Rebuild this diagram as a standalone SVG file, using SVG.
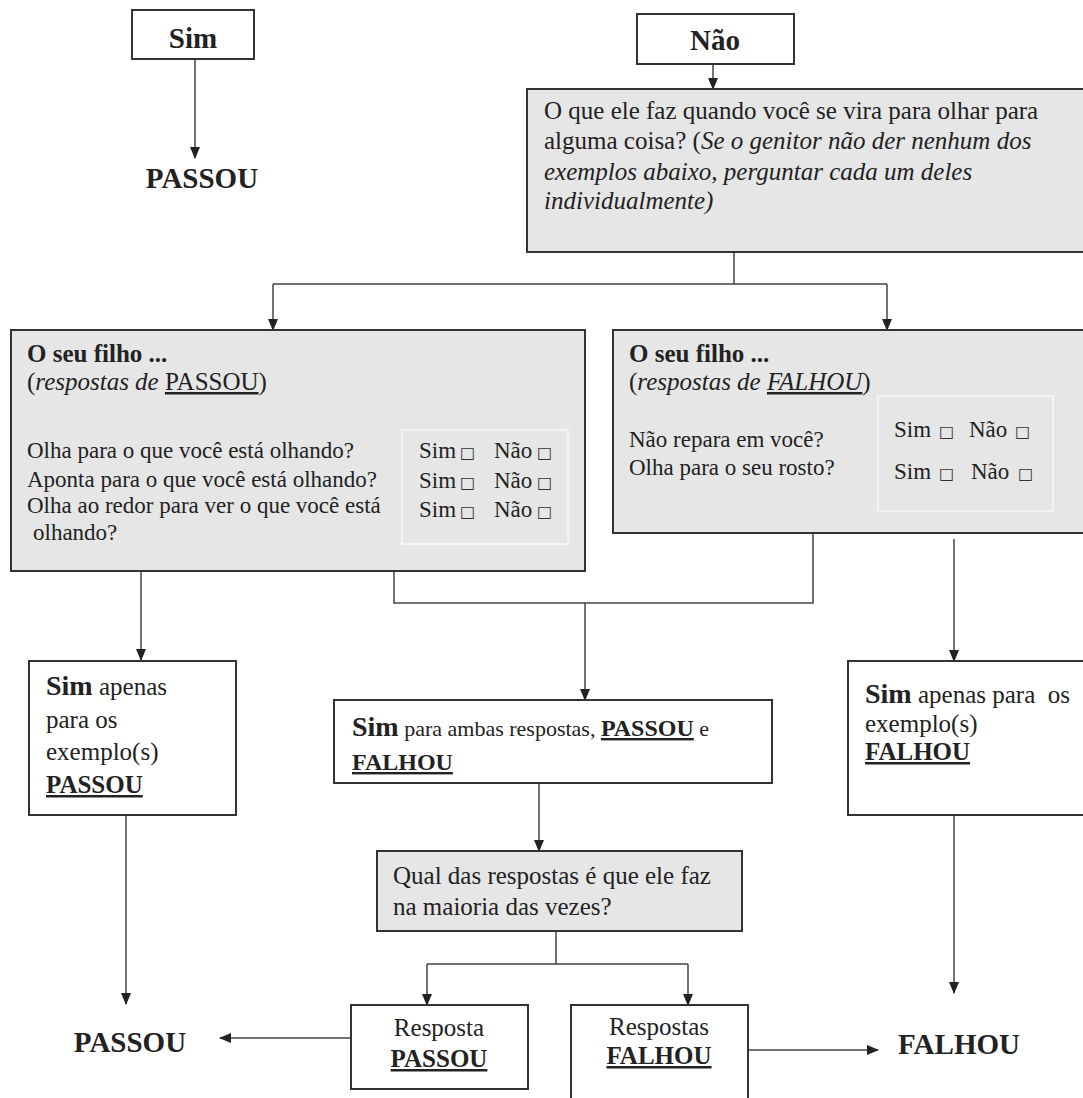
<svg xmlns="http://www.w3.org/2000/svg" width="1083" height="1098" viewBox="0 0 1083 1098">
<style>
text{font-family:"Liberation Serif","Times New Roman",serif;fill:#222;}
.b{font-weight:bold;}
.i{font-style:italic;}
.u{text-decoration:underline;}
.box{fill:#fff;stroke:#333;stroke-width:2;}
.gbox{fill:#e6e6e6;stroke:#333;stroke-width:2;}
.inner{fill:none;stroke:#f7f7f7;stroke-width:1.5;}
.c{fill:none;stroke:#444;stroke-width:1.5;}
.ca{fill:none;stroke:#444;stroke-width:1.5;marker-end:url(#ah);}
.sq{font-family:"DejaVu Sans",sans-serif;font-size:16px;fill:#333;}
</style>
<defs>
<marker id="ah" markerUnits="userSpaceOnUse" markerWidth="12" markerHeight="12" viewBox="0 0 12 12" refX="11" refY="6" orient="auto">
<path d="M0,1 L12,6 L0,11 Z" fill="#222"/>
</marker>
</defs>
<rect width="1083" height="1098" fill="#fff"/>

<g id="connectors">
<path class="ca" d="M195,59 V158"/>
<path class="ca" d="M713,64 V89"/>
<path class="c" d="M734,252 V284 M273,284 H887"/>
<path class="ca" d="M273,284 V330"/>
<path class="ca" d="M887,284 V330"/>
<path class="ca" d="M141,571 V660"/>
<path class="c" d="M394,571 V603 H813 V533"/>
<path class="ca" d="M585,603 V700"/>
<path class="ca" d="M954,539 V661"/>
<path class="ca" d="M126,815 V1004"/>
<path class="ca" d="M539,783 V851"/>
<path class="c" d="M556,931 V964 M427,964 H688"/>
<path class="ca" d="M427,964 V1005"/>
<path class="ca" d="M688,964 V1005"/>
<path class="ca" d="M351,1038 H220"/>
<path class="ca" d="M748,1050 H878"/>
<path class="ca" d="M954,815 V993"/>
</g>

<g id="sim-top">
<rect class="box" x="132" y="10" width="122" height="49"/>
<text class="b" x="193" y="48" font-size="29" text-anchor="middle">Sim</text>
</g>

<g id="passou-top">
<text class="b" x="202" y="188" font-size="29" text-anchor="middle">PASSOU</text>
</g>

<g id="nao-top">
<rect class="box" x="637" y="14" width="157" height="50"/>
<text class="b" x="715" y="50" font-size="29" text-anchor="middle">Não</text>
</g>

<g id="question-main">
<rect class="gbox" x="527" y="89" width="570" height="163"/>
<text x="544" y="119" font-size="25">O que ele faz quando você se vira para olhar para</text>
<text x="544" y="149" font-size="25">alguma coisa? (<tspan class="i">Se o genitor não der nenhum dos</tspan></text>
<text class="i" x="544" y="180" font-size="25">exemplos abaixo, perguntar cada um deles</text>
<text class="i" x="544" y="209" font-size="25">individualmente)</text>
</g>

<g id="passou-examples">
<rect class="gbox" x="11" y="330" width="574" height="241"/>
<text class="b" x="27" y="362" font-size="25">O seu filho ...</text>
<text x="27" y="390" font-size="25">(<tspan class="i">respostas de </tspan><tspan class="u">PASSOU</tspan>)</text>
<text x="27" y="458" font-size="23">Olha para o que você está olhando?</text>
<text x="27" y="487" font-size="23">Aponta para o que você está olhando?</text>
<text x="27" y="513" font-size="23">Olha ao redor para ver o que você está</text>
<text x="33" y="540" font-size="23">olhando?</text>
<rect class="inner" x="402" y="430" width="166" height="114"/>
<text x="419" y="458" font-size="23">Sim</text><text class="sq" x="460" y="458">□</text>
<text x="494" y="458" font-size="23">Não</text><text class="sq" x="537" y="458">□</text>
<text x="419" y="488" font-size="23">Sim</text><text class="sq" x="460" y="488">□</text>
<text x="494" y="488" font-size="23">Não</text><text class="sq" x="537" y="488">□</text>
<text x="419" y="517" font-size="23">Sim</text><text class="sq" x="460" y="517">□</text>
<text x="494" y="517" font-size="23">Não</text><text class="sq" x="537" y="517">□</text>
</g>

<g id="falhou-examples">
<rect class="gbox" x="613" y="330" width="480" height="203"/>
<text class="b" x="629" y="362" font-size="25">O seu filho ...</text>
<text x="629" y="390" font-size="25">(<tspan class="i">respostas de </tspan><tspan class="i u">FALHOU</tspan>)</text>
<text x="629" y="447" font-size="23">Não repara em você?</text>
<text x="629" y="475" font-size="23">Olha para o seu rosto?</text>
<rect class="inner" x="878" y="396" width="175" height="115"/>
<text x="894" y="437" font-size="23">Sim</text><text class="sq" x="939" y="437">□</text>
<text x="969" y="437" font-size="23">Não</text><text class="sq" x="1015" y="437">□</text>
<text x="894" y="479" font-size="23">Sim</text><text class="sq" x="939" y="479">□</text>
<text x="971" y="479" font-size="23">Não</text><text class="sq" x="1018" y="479">□</text>
</g>

<g id="sim-only-passou">
<rect class="box" x="29" y="661" width="207" height="154"/>
<text x="46" y="695" font-size="25"><tspan class="b" font-size="28">Sim</tspan> apenas</text>
<text x="46" y="728" font-size="25">para os</text>
<text x="46" y="760" font-size="25">exemplo(s)</text>
<text class="b u" x="46" y="793" font-size="25">PASSOU</text>
</g>

<g id="sim-both">
<rect class="box" x="334" y="700" width="438" height="83"/>
<text x="352" y="736" font-size="22"><tspan class="b" font-size="28">Sim</tspan> para ambas respostas, <tspan class="b u" font-size="24">PASSOU</tspan> e</text>
<text class="b u" x="352" y="770" font-size="24">FALHOU</text>
</g>

<g id="sim-only-falhou">
<rect class="box" x="848" y="661" width="245" height="154"/>
<text x="865" y="703" font-size="25" xml:space="preserve"><tspan class="b" font-size="28">Sim</tspan> apenas para  os</text>
<text x="865" y="732" font-size="25">exemplo(s)</text>
<text class="b u" x="865" y="760" font-size="25">FALHOU</text>
</g>

<g id="which-most">
<rect class="gbox" x="377" y="851" width="365" height="80"/>
<text x="393" y="884" font-size="25">Qual das respostas é que ele faz</text>
<text x="393" y="915" font-size="25">na maioria das vezes?</text>
</g>

<g id="resp-passou">
<rect class="box" x="351" y="1005" width="177" height="84"/>
<text x="439" y="1036" font-size="25" text-anchor="middle">Resposta</text>
<text class="b u" x="439" y="1067" font-size="25" text-anchor="middle">PASSOU</text>
</g>

<g id="resp-falhou">
<rect class="box" x="571" y="1005" width="177" height="100"/>
<text x="659" y="1035" font-size="25" text-anchor="middle">Respostas</text>
<text class="b u" x="659" y="1064" font-size="25" text-anchor="middle">FALHOU</text>
</g>

<g id="passou-bottom">
<text class="b" x="130" y="1052" font-size="29" text-anchor="middle">PASSOU</text>
</g>

<g id="falhou-bottom">
<text class="b" x="959" y="1054" font-size="29" text-anchor="middle">FALHOU</text>
</g>
</svg>
